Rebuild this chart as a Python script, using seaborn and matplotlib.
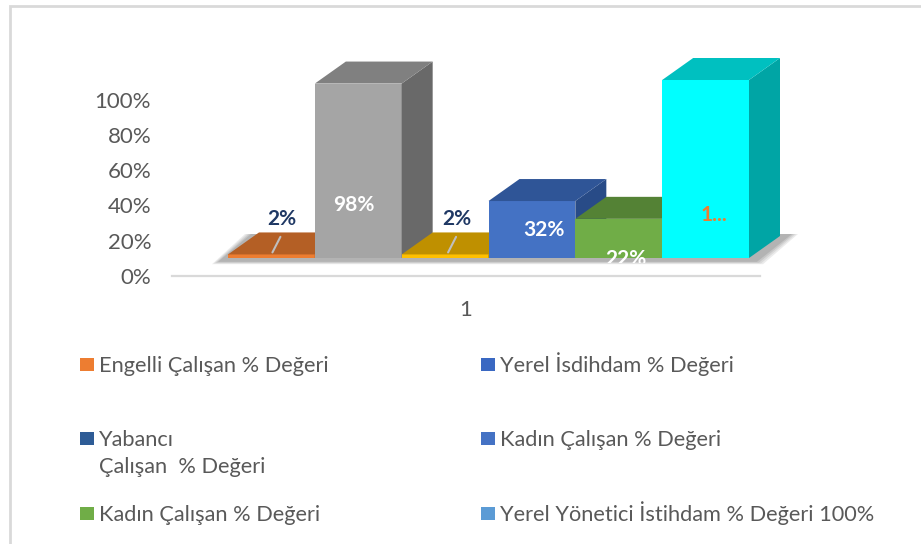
import matplotlib
matplotlib.use("Agg")
import matplotlib.pyplot as plt
import seaborn as sns
import numpy as np
import pandas as pd
from matplotlib.patches import Polygon, Rectangle

# ---------------- data ----------------
series_keys = ["engelli", "yerel_istihdam", "yabanci", "kadin_1", "kadin_2", "yerel_yonetici"]
values = [0.02, 0.98, 0.02, 0.32, 0.22, 1.00]
value_labels = ["2%", "98%", "2%", "32%", "22%", "1..."]
category_label = ["1"]
ytick_values = [0.0, 0.2, 0.4, 0.6, 0.8, 1.0]
ytick_labels = ["0%", "20%", "40%", "60%", "80%", "100%"]
legend_labels = ["Engelli Çalışan % Değeri", "Yerel İsdihdam % Değeri",
                 "Yabancı\nÇalışan  % Değeri", "Kadın Çalışan % Değeri",
                 "Kadın Çalışan % Değeri", "Yerel Yönetici İstihdam % Değeri 100%"]

# ---------------- style ----------------
front_colors = ["#ED7D31", "#A5A5A5", "#FFC000", "#4472C4", "#70AD47", "#00FFFF"]
top_colors = ["#B45F25", "#808080", "#BF9000", "#2F5597", "#548235", "#00C0C0"]
side_colors = ["#9E521F", "#696969", "#A67C00", "#284B87", "#4A7330", "#00A5A5"]
label_colors = ["#1F3864", "white", "#1F3864", "white", "white", "#ED7D31"]
label_dx_px = [10, -4, 12, 12, 7, 8]
label_y = [0.22, 0.30, 0.22, 0.16, -0.005, 0.24]
legend_colors = ["#ED7D31", "#3A68C2", "#2E5C96", "#4472C4", "#70AD47", "#5B9BD5"]

W, H = 921, 544
FONT = "Lato"
TXT = "#595959"

sns.set_theme(style="white")
plt.rcParams["font.family"] = [FONT, "DejaVu Sans"]

fig = plt.figure(figsize=(W / 100, H / 100), dpi=100)
fig.patch.set_facecolor("white")

def fx(px):
    return px / W

def fy(py):
    return (H - py) / H

# outer border
fig.patches.append(Rectangle((fx(10), fy(H + 20)), 1.2, fy(6) - fy(H + 20),
                             transform=fig.transFigure, fill=False,
                             edgecolor="#D9D9D9", linewidth=2))

# ---------------- value axis (wall) ----------------
ax_t = fig.add_axes([fx(172), fy(276), fx(760) - fx(172), fy(99.5) - fy(276)])
ax_t.set_xlim(0, 1)
ax_t.set_ylim(0, 1)
ax_t.set_yticks(ytick_values)
ax_t.set_yticklabels(ytick_labels)
ax_t.set_xticks([0.5])
ax_t.set_xticklabels(category_label)
ax_t.tick_params(axis="y", length=0, pad=15, labelsize=16, labelcolor=TXT)
ax_t.tick_params(axis="x", length=0, pad=17, labelsize=16, labelcolor=TXT)
for s in ["top", "right", "left"]:
    ax_t.spines[s].set_visible(False)
ax_t.spines["bottom"].set_color("#D9D9D9")
ax_t.spines["bottom"].set_linewidth(1.6)
ax_t.patch.set_visible(False)
ax_t.grid(False)

# ---------------- bars ----------------
px_per_unit = 178.0
y_top = 1.2
ax = fig.add_axes([fx(228), fy(258), fx(749) - fx(228), (y_top * px_per_unit) / H])
df = pd.DataFrame({"seri": series_keys, "deger": values})
sns.barplot(data=df, x="seri", y="deger", hue="seri", palette=front_colors,
            width=1.0, saturation=1, legend=False, ax=ax, order=series_keys,
            hue_order=series_keys, linewidth=0)
ax.set_ylim(0, y_top)
ax.set_xlim(-0.5, len(series_keys) - 0.5)
ax.axis("off")
ax.patch.set_visible(False)

DX, DY = 31, 22  # depth offset in pixels
inv = ax.transData.inverted()

def to_data(pts):
    return inv.transform(np.array(pts))

# floor shadow
p0 = ax.patches[0]
pl = ax.patches[len(series_keys) - 1]
x_left = p0.get_x()
x_right = pl.get_x() + pl.get_width()
dl = ax.transData.transform((x_left, 0))
dr = ax.transData.transform((x_right, 0))
for k, a in enumerate([0.10, 0.10, 0.12, 0.14]):
    e = 8 - 2 * k
    shadow = [(dl[0] - 8 - e, dl[1] - 3 - e * 0.4), (dr[0] + 6 + e, dr[1] - 3 - e * 0.4),
              (dr[0] + DX + 10 + e, dr[1] + DY + 2), (dl[0] + DX - 6 - e, dl[1] + DY + 2)]
    ax.add_patch(Polygon(to_data(shadow), closed=True, facecolor="#404040",
                         edgecolor="none", alpha=a, zorder=1, clip_on=False))

for i, p in enumerate(ax.patches[:len(series_keys)]):
    p.set_zorder(3 + 3 * i)
    p.set_clip_on(False)
    x0 = p.get_x()
    x1 = x0 + p.get_width()
    h = p.get_height()
    bl = ax.transData.transform((x0, 0))
    br = ax.transData.transform((x1, 0))
    tl = ax.transData.transform((x0, h))
    tr = ax.transData.transform((x1, h))
    top = [tl, tr, (tr[0] + DX, tr[1] + DY), (tl[0] + DX, tl[1] + DY)]
    side = [br, tr, (tr[0] + DX, tr[1] + DY), (br[0] + DX, br[1] + DY)]
    ax.add_patch(Polygon(to_data(side), closed=True, facecolor=side_colors[i],
                         edgecolor="none", zorder=3 + 3 * i + 1, clip_on=False))
    ax.add_patch(Polygon(to_data(top), closed=True, facecolor=top_colors[i],
                         edgecolor="none", zorder=3 + 3 * i + 1, clip_on=False))

# data labels
clip_rect = Rectangle((0, fy(263)), 1, 1, transform=fig.transFigure, visible=False)
fig.patches.append(clip_rect)
for i, p in enumerate(ax.patches[:len(series_keys)]):
    cx = p.get_x() + p.get_width() / 2
    cdisp = ax.transData.transform((cx, label_y[i]))
    lx, ly = to_data([(cdisp[0] + label_dx_px[i], cdisp[1])])[0]
    t = ax.text(lx, ly, value_labels[i], ha="center", va="center", fontsize=15,
                fontweight="bold", color=label_colors[i], zorder=40, clip_on=True)
    t.set_clip_path(clip_rect)
    if values[i] < 0.05:
        # leader line from label to bar
        a = ax.transData.transform((cx, values[i]))
        pts = to_data([(cdisp[0] + label_dx_px[i] - 9, a[1] + 2),
                       (cdisp[0] + label_dx_px[i] - 1, cdisp[1] - 18)])
        ax.plot(pts[:, 0], pts[:, 1], color="#BFBFBF", lw=1.5, zorder=39,
                clip_on=False)

# ---------------- legend ----------------
leg_x = [80, 481, 80, 481, 80, 481]
leg_base = [372, 372, 446, 446, 521, 521]
line_step = 27
for lab, col, x, b in zip(legend_labels, legend_colors, leg_x, leg_base):
    fig.patches.append(Rectangle((fx(x), fy(b - 1)), fx(14) - fx(0), fy(0) - fy(13),
                                 transform=fig.transFigure, facecolor=col,
                                 edgecolor="none"))
    n_extra = lab.count("\n")
    fig.text(fx(x + 19), fy(b + n_extra * line_step), lab, ha="left", va="baseline",
             fontsize=15.7, color=TXT, linespacing=1.45)

fig.savefig("out.png", dpi=100, facecolor="white")
